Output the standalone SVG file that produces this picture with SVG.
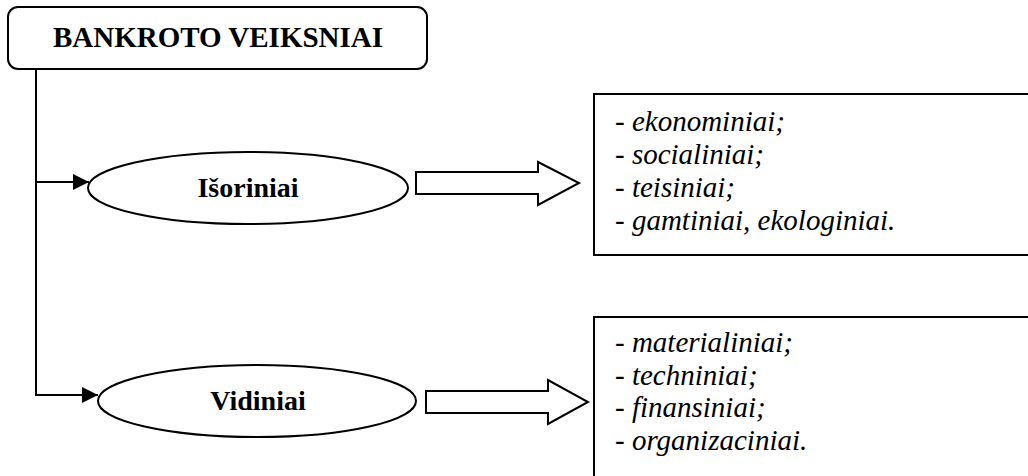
<svg xmlns="http://www.w3.org/2000/svg" width="1028" height="476" viewBox="0 0 1028 476">
<style>
.shape{fill:#fff;stroke:#000;stroke-width:2}
.line{fill:none;stroke:#000;stroke-width:2}
.title{font-family:"Liberation Serif","Times New Roman",serif;font-weight:bold;font-size:29px;text-anchor:middle;fill:#000}
.node{font-family:"Liberation Serif","Times New Roman",serif;font-weight:bold;font-size:28px;text-anchor:middle;fill:#000}
.item{font-family:"Liberation Serif","Times New Roman",serif;font-style:italic;font-size:29px;fill:#000}
</style>
<defs>
<marker id="ah" viewBox="0 0 16 16" refX="16" refY="8" markerWidth="16" markerHeight="16" markerUnits="userSpaceOnUse" orient="auto">
<path d="M0,0 L16,8 L0,16 Z" fill="#000"/>
</marker>
</defs>
<rect width="1028" height="476" fill="#fff"/>
<g id="connectors">
<path class="line" d="M36,70 V395"/>
<path class="line" d="M35,182 H89" marker-end="url(#ah)"/>
<path class="line" d="M35,395 H98" marker-end="url(#ah)"/>
<path id="block-arrow-1" class="shape" d="M416,172 H538 V162 L579,183 L538,205 V194 H416 Z"/>
<path id="block-arrow-2" class="shape" d="M426,391 H548 V380 L588,402 L548,424 V413 H426 Z"/>
</g>
<g id="bankroto">
<rect class="shape" x="8" y="7" width="419" height="62" rx="10" ry="10"/>
<text class="title" x="218" y="47">BANKROTO VEIKSNIAI</text>
</g>
<g id="isoriniai">
<ellipse class="shape" cx="248" cy="188" rx="160" ry="36"/>
<text class="node" x="248" y="197">Išoriniai</text>
</g>
<g id="vidiniai">
<ellipse class="shape" cx="257" cy="401" rx="159" ry="36"/>
<text class="node" x="258" y="410">Vidiniai</text>
</g>
<g id="isoriniai-list">
<rect class="shape" x="594" y="94" width="450" height="161"/>
<text class="item" x="615" y="131">- ekonominiai;</text>
<text class="item" x="615" y="164">- socialiniai;</text>
<text class="item" x="615" y="197">- teisiniai;</text>
<text class="item" x="615" y="230">- gamtiniai, ekologiniai.</text>
</g>
<g id="vidiniai-list">
<rect class="shape" x="594" y="317" width="450" height="180"/>
<text class="item" x="615" y="352">- materialiniai;</text>
<text class="item" x="615" y="385">- techniniai;</text>
<text class="item" x="615" y="417">- finansiniai;</text>
<text class="item" x="615" y="450">- organizaciniai.</text>
</g>
</svg>
